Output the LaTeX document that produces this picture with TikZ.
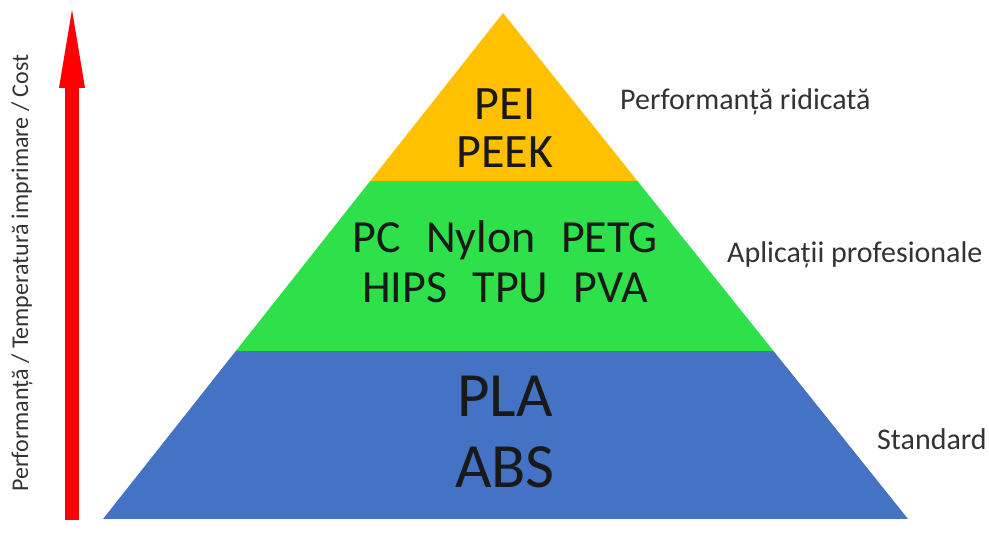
\documentclass[tikz,border=0pt]{standalone}
\usepackage{fontspec}
\setmainfont{Carlito}
\usepackage{tikz}
\usetikzlibrary{arrows.meta}
\definecolor{bandgold}{HTML}{FFC000}
\definecolor{bandgreen}{HTML}{2EE04A}
\definecolor{bandblue}{HTML}{4472C4}
\tikzset{every picture/.style={x=1pt,y=1pt}}

\begin{document}
\begin{tikzpicture}[
    tier/.style={anchor=base, inner sep=0pt, text=black!90},
    tierlabel/.style={anchor=base west, inner sep=0pt, text=black!80,
        font=\fontsize{30}{30}\selectfont}]
    \useasboundingbox (0,0) rectangle (989,538);

    % Pyramid corners
    \coordinate (apex) at (503,525);
    \coordinate (baseL) at (103,19);
    \coordinate (baseR) at (908,19);

    % Fill the three bands
    \begin{scope}
        \clip (apex) -- (baseL) -- (baseR) -- cycle;
        \fill[bandblue] (0,0) rectangle (989,187);
        \fill[bandgreen] (0,187) rectangle (989,357);
        \fill[bandgold] (0,357) rectangle (989,538);
    \end{scope}

    % Materials in each band
    \node[tier, font=\fontsize{48}{48}\selectfont] (pei) at (505,418) {PEI};
    \node[tier, font=\fontsize{48}{48}\selectfont] (peek) at (505,370) {PEEK};
    \node[tier, font=\fontsize{46}{46}\selectfont] (greenA) at (505,285) {PC\hspace{0.55em}Nylon\hspace{0.55em}PETG};
    \node[tier, font=\fontsize{46}{46}\selectfont] (greenB) at (505,235) {HIPS\hspace{0.55em}TPU\hspace{0.55em}PVA};
    \node[tier, font=\fontsize{63}{63}\selectfont] (pla) at (505,121) {PLA};
    \node[tier, font=\fontsize{63}{63}\selectfont] (abs) at (505,50) {ABS};

    % Band labels on the right
    \node[tierlabel] (toplabel) at (620,428) {Performanță ridicată};
    \node[tierlabel] (midlabel) at (727,275) {Aplicații profesionale};
    \node[tierlabel] (baselabel) at (877,88) {Standard};

    % Rising arrow and its label
    \coordinate (risefoot) at (72,18);
    \coordinate (risetip) at (72,528);
    \draw[red, line width=14pt, -{Triangle[length=78pt,width=26pt,line width=0pt]}] (risefoot) -- (risetip);
    \node[rotate=90, anchor=base, inner sep=0pt, text=black!80,
        font=\fontsize{24}{24}\selectfont] (axislabel) at (28,265)
        {Performanță / Temperatură imprimare / Cost};
\end{tikzpicture}
\end{document}
